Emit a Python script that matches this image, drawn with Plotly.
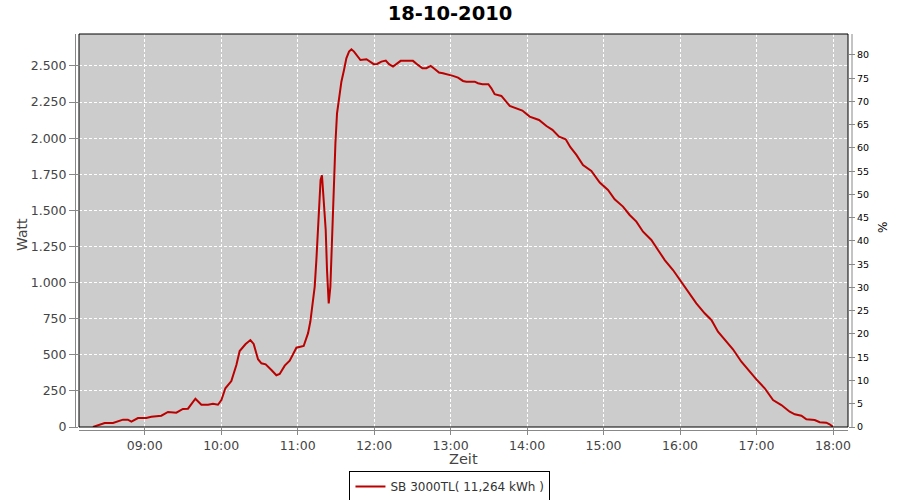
import plotly.graph_objects as go

DATE = "2010-10-18"

times = [
    "08:19:26", "08:24:36", "08:28:37", "08:35:10", "08:39:00", "08:42:58", "08:46:48", "08:49:34",
    "08:54:43", "09:01:12", "09:05:13", "09:13:05", "09:18:18", "09:24:50", "09:30:00", "09:33:58",
    "09:39:47", "09:44:28", "09:49:41", "09:53:35", "09:57:29", "10:00:11", "10:03:18", "10:07:59",
    "10:11:56", "10:14:31", "10:19:01", "10:22:55", "10:25:30", "10:28:55", "10:31:34", "10:34:55",
    "10:39:25", "10:43:19", "10:45:54", "10:49:52", "10:53:46", "10:59:02", "11:04:44", "11:08:10",
    "11:09:58", "11:13:23", "11:14:42", "11:15:58", "11:16:48", "11:18:00", "11:19:05", "11:20:24",
    "11:22:01", "11:23:02", "11:24:22", "11:25:41", "11:27:00", "11:28:12", "11:29:38", "11:30:54",
    "11:32:24", "11:34:19", "11:36:22", "11:38:13", "11:40:19", "11:42:11", "11:44:13", "11:46:34",
    "11:49:16", "11:54:00", "11:56:35", "11:59:42", "12:02:20", "12:05:42", "12:09:07", "12:11:42",
    "12:14:49", "12:18:00", "12:20:49", "12:25:19", "12:30:29", "12:34:23", "12:37:52", "12:40:59",
    "12:44:24", "12:47:31", "12:50:53", "12:54:00", "12:57:58", "13:01:52", "13:05:49", "13:09:43",
    "13:12:22", "13:18:54", "13:21:29", "13:24:58", "13:29:38", "13:31:59", "13:34:34", "13:39:50",
    "13:46:23", "13:51:36", "13:56:17", "14:02:02", "14:09:22", "14:15:11", "14:19:52", "14:25:05",
    "14:30:18", "14:33:58", "14:38:42", "14:43:52", "14:50:24", "14:57:00", "15:03:29", "15:08:42",
    "15:15:14", "15:20:28", "15:25:44", "15:30:58", "15:37:30", "15:42:43", "15:48:00", "15:54:29",
    "15:59:46", "16:06:14", "16:12:47", "16:19:19", "16:24:36", "16:29:46", "16:36:22", "16:41:31",
    "16:48:07", "16:54:40", "16:59:53", "17:06:25", "17:12:58", "17:19:30", "17:26:02", "17:30:00",
    "17:35:13", "17:39:07", "17:45:40", "17:49:34", "17:54:47", "17:57:22", "18:00:00",
]

watt = [
    0, 16, 28, 28, 37, 51, 51, 37,
    62, 62, 71, 78, 104, 99, 125, 127,
    196, 154, 154, 161, 154, 187, 268, 318,
    429, 526, 573, 602, 575, 469, 441, 434,
    395, 358, 367, 425, 459, 549, 561, 650,
    730, 972, 1157, 1341, 1503, 1710, 1743, 1572,
    1364, 1087, 856, 972, 1318, 1688, 1965, 2172,
    2287, 2391, 2472, 2553, 2599, 2615, 2599, 2569,
    2541, 2546, 2530, 2512, 2514, 2530, 2537, 2512,
    2495, 2514, 2535, 2535, 2535, 2507, 2484, 2484,
    2500, 2479, 2454, 2449, 2442, 2431, 2419, 2396,
    2391, 2391, 2380, 2373, 2373, 2345, 2304, 2292,
    2223, 2207, 2191, 2149, 2126, 2084, 2057, 2010,
    1992, 1937, 1884, 1814, 1773, 1692, 1641, 1577,
    1526, 1468, 1422, 1352, 1295, 1226, 1156, 1087,
    1018, 937, 856, 787, 741, 660, 591, 538,
    452, 383, 330, 268, 187, 152, 106, 88,
    78, 53, 48, 33, 30, 19, 2,
]

series_name = "SB 3000TL( 11,264 kWh )"
title_text = "18-10-2010"
x_range = ["08:08:28", "18:11:46"]
watt_range = [0, 2721]
pct_range = [0, 84.5]

x = [f"{DATE} {t}" for t in times]

LINE_RED = "#bb0000"
GRAY_TXT = "#444444"
AXIS_GRAY = "#888888"
FONT = "DejaVu Sans"

fig = go.Figure()
fig.add_trace(go.Scatter(
    x=x, y=watt, mode="lines", name=series_name,
    line=dict(color=LINE_RED, width=2),
    showlegend=True,
))
# invisible trace so the secondary (%) axis is rendered
fig.add_trace(go.Scatter(
    x=[x[0]], y=[0], yaxis="y2", mode="lines", showlegend=False,
    hoverinfo="skip", line=dict(color="rgba(0,0,0,0)"),
))

fig.update_layout(
    width=900, height=500,
    margin=dict(l=79, r=52, t=34, b=73, autoexpand=False),
    paper_bgcolor="white",
    plot_bgcolor="#cccccc",
    separators=",.",
    font=dict(family=FONT, color=GRAY_TXT, size=12),
    title=dict(text=f"<b>{title_text}</b>", x=0.5, xref="container", xanchor="center",
               y=1 - 13 / 500, yref="container", yanchor="middle",
               font=dict(family=FONT, size=19.5, color="#000000")),
    xaxis=dict(
        type="date",
        range=[f"{DATE} {x_range[0]}", f"{DATE} {x_range[1]}"],
        tick0=f"{DATE} 09:00", dtick=3600000, tickformat="%H:%M",
        showgrid=True, gridcolor="white", gridwidth=1, griddash="3px,2px",
        zeroline=False, showline=False,
        ticks="outside", ticklen=7, tickcolor=AXIS_GRAY,
        tickfont=dict(family=FONT, size=12.5, color=GRAY_TXT),
    ),
    yaxis=dict(
        range=watt_range, tick0=0, dtick=250,
        tickformat=",d",
        showgrid=True, gridcolor="white", gridwidth=1, griddash="3px,2px",
        zeroline=False, showline=False,
        ticks="outside", ticklen=9, tickcolor=AXIS_GRAY,
        tickfont=dict(family=FONT, size=12.5, color=GRAY_TXT),
    ),
    yaxis2=dict(
        overlaying="y", side="right", range=pct_range, tick0=0, dtick=5,
        showgrid=False, zeroline=False, showline=False,
        ticks="outside", ticklen=6, tickcolor=AXIS_GRAY,
        tickfont=dict(family=FONT, size=9.5, color="#000000"),
    ),
    legend=dict(
        orientation="h", x=0.4824, xanchor="center", y=(427 - 471) / 393, yanchor="top",
        bordercolor="#000000", borderwidth=1, bgcolor="white",
        font=dict(family=FONT, size=12, color="#333333"),
        itemwidth=30, tracegroupgap=0, valign="middle",
    ),
    showlegend=True,
)

# plot frame and offset gray axis lines
fig.add_shape(type="rect", xref="paper", yref="paper", x0=0, x1=1, y0=0, y1=1,
              line=dict(color="#000000", width=1), fillcolor="rgba(0,0,0,0)", layer="above")
fig.add_shape(type="line", xref="paper", yref="paper", x0=-3.5 / 769, x1=-3.5 / 769, y0=0, y1=1,
              line=dict(color=AXIS_GRAY, width=1))
fig.add_shape(type="line", xref="paper", yref="paper", x0=0, x1=1, y0=-3.5 / 393, y1=-3.5 / 393,
              line=dict(color=AXIS_GRAY, width=1))
fig.add_shape(type="line", xref="paper", yref="paper", x0=1 + 4 / 769, x1=1 + 4 / 769, y0=0, y1=1,
              line=dict(color=AXIS_GRAY, width=1))

# axis titles
fig.add_annotation(text="Watt", xref="paper", yref="paper", x=(22 - 79) / 769, y=(427 - 235) / 393,
                   textangle=-90, showarrow=False, xanchor="center", yanchor="middle",
                   font=dict(family=FONT, size=14, color=GRAY_TXT))
fig.add_annotation(text="Zeit", xref="paper", yref="paper", x=(463 - 79) / 769, y=(427 - 459) / 393,
                   showarrow=False, xanchor="center", yanchor="middle",
                   font=dict(family=FONT, size=14.5, color=GRAY_TXT))
fig.add_annotation(text="%", xref="paper", yref="paper", x=(883 - 79) / 769, y=(427 - 228) / 393,
                   textangle=-90, showarrow=False, xanchor="center", yanchor="middle",
                   font=dict(family=FONT, size=12, color="#000000"))

fig.write_html(
    "out.html",
    config={"displayModeBar": False},
    post_script="document.body.style.margin='0';document.body.style.overflow='hidden';",
)
